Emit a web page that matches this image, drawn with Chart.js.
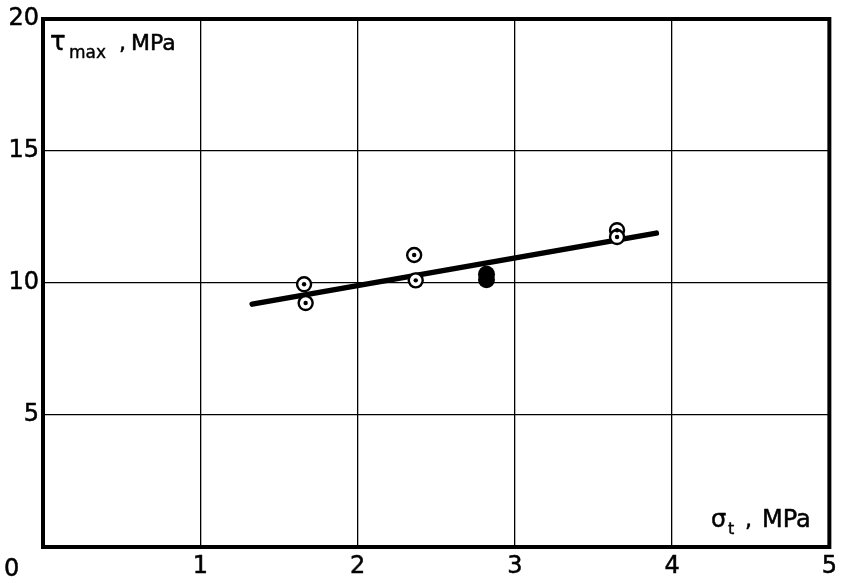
<!DOCTYPE html>
<html>
<head>
<meta charset="utf-8">
<title>Shear strength vs tensile strength</title>
<script src="https://cdn.jsdelivr.net/npm/chart.js@4/dist/chart.umd.min.js"></script>
<style>
  html, body { margin: 0; padding: 0; background: #ffffff; }
  #wrap { width: 842px; height: 583px; }
</style>
</head>
<body>
<div id="wrap"><canvas id="c" width="842" height="583"></canvas></div>
<script>
// Measured specimens: tensile strength sigma_t (MPa) vs max shear stress tau_max (MPa)
const openX = [1.66, 1.67, 2.36, 2.37, 3.65, 3.65];
const openY = [9.95, 9.24, 11.06, 10.10, 12.00, 11.74];
const solidX = [2.82, 2.82];
const solidY = [10.33, 10.12];
// Fitted trend line end points
const fitX = [1.33, 3.90];
const fitY = [9.20, 11.89];
// Axis ticks
const xTicks = [0, 1, 2, 3, 4, 5];
const yTicks = [0, 5, 10, 15, 20];

const FONT = '"DejaVu Sans", sans-serif';
const toPts = (xs, ys) => xs.map((x, i) => ({ x: x, y: ys[i] }));

// draw text with a thin outline so the strokes look a little heavier
function heavyText(ctx, txt, x, y, font, w) {
  ctx.font = font;
  ctx.lineWidth = w;
  ctx.strokeText(txt, x, y);
  ctx.fillText(txt, x, y);
}

// White page, heavy frame and the two axis captions
const decor = {
  id: 'decor',
  beforeDraw(chart) {
    const ctx = chart.ctx;
    ctx.save();
    ctx.fillStyle = '#ffffff';
    ctx.fillRect(0, 0, chart.width, chart.height);
    ctx.restore();
  },
  afterDraw(chart) {
    const ctx = chart.ctx;
    const a = chart.chartArea;
    ctx.save();
    ctx.strokeStyle = '#000';
    ctx.lineWidth = 4;
    ctx.strokeRect(a.left, a.top, a.right - a.left, a.bottom - a.top);

    ctx.fillStyle = '#000';
    ctx.textBaseline = 'alphabetic';
    ctx.textAlign = 'left';
    ctx.lineJoin = 'round';
    // shared origin label at the lower left corner
    heavyText(ctx, String(xTicks[0]), 4, 576, '24px ' + FONT, 0.5);

    // y caption: tau_max , MPa
    heavyText(ctx, '\u03C4', 50, 50, '26px ' + FONT, 0.5);
    heavyText(ctx, 'max', 69, 58, '17px ' + FONT, 0.4);
    heavyText(ctx, ',', 119, 50, '22px ' + FONT, 0.5);
    heavyText(ctx, 'MPa', 131, 50, '22px ' + FONT, 0.5);

    // x caption: sigma_t , MPa
    heavyText(ctx, '\u03C3', 711, 527, '24px ' + FONT, 0.5);
    heavyText(ctx, 't', 728, 534, '16px ' + FONT, 0.4);
    heavyText(ctx, ',', 745, 527, '22px ' + FONT, 0.5);
    heavyText(ctx, 'MPa', 762, 527, '24px ' + FONT, 0.5);
    ctx.restore();
  }
};

new Chart(document.getElementById('c'), {
  type: 'scatter',
  data: {
    datasets: [
      {
        type: 'line',
        data: toPts(fitX, fitY),
        borderColor: '#000',
        borderWidth: 5.5,
        borderCapStyle: 'round',
        pointRadius: 0,
        fill: false,
        order: 3
      },
      {
        data: toPts(openX, openY),
        pointStyle: 'circle',
        pointRadius: 7,
        pointBorderWidth: 2.4,
        pointBorderColor: '#000',
        pointBackgroundColor: '#ffffff',
        order: 2
      },
      {
        data: toPts(openX, openY),
        pointStyle: 'circle',
        pointRadius: 2.2,
        pointBorderWidth: 0,
        pointBackgroundColor: '#000',
        order: 1
      },
      {
        data: toPts(solidX, solidY),
        pointStyle: 'circle',
        pointRadius: 8.5,
        pointBorderWidth: 0,
        pointBackgroundColor: '#000',
        order: 1
      }
    ]
  },
  options: {
    responsive: false,
    animation: false,
    devicePixelRatio: 1,
    layout: { padding: { top: 19, right: 10, left: 0, bottom: 0 } },
    plugins: { legend: { display: false }, tooltip: { enabled: false } },
    scales: {
      x: {
        type: 'linear',
        min: xTicks[0],
        max: xTicks[xTicks.length - 1],
        afterBuildTicks(scale) { scale.ticks = xTicks.map(v => ({ value: v })); },
        afterFit(scale) { scale.height = 36; },
        grid: { color: '#000', lineWidth: 1.3, drawTicks: false },
        border: { display: false },
        ticks: {
          color: '#000',
          font: { family: FONT, size: 24 },
          textStrokeColor: '#000',
          textStrokeWidth: 0.5,
          padding: 5,
          maxRotation: 0,
          callback: v => (v === xTicks[0] ? '' : String(v))
        }
      },
      y: {
        type: 'linear',
        min: yTicks[0],
        max: yTicks[yTicks.length - 1],
        afterBuildTicks(scale) { scale.ticks = yTicks.map(v => ({ value: v })); },
        afterFit(scale) { scale.width = 43; },
        grid: { color: '#000', lineWidth: 1.3, drawTicks: false },
        border: { display: false },
        ticks: {
          color: '#000',
          font: { family: FONT, size: 24 },
          textStrokeColor: '#000',
          textStrokeWidth: 0.5,
          padding: 4,
          callback: v => (v === yTicks[0] ? '' : String(v))
        }
      }
    }
  },
  plugins: [decor]
});
</script>
</body>
</html>
